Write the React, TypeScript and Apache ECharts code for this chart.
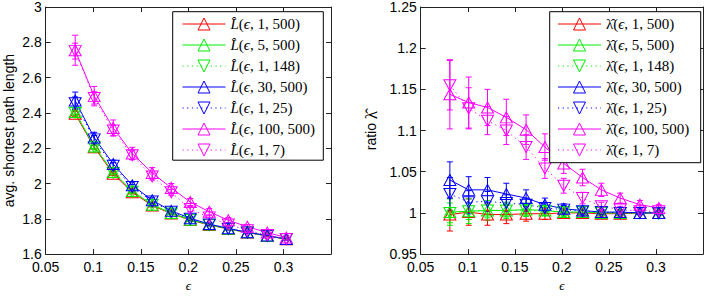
import React, { useEffect, useRef } from "react";
import * as echarts from "echarts";

// epsilon values (x)
const EPS = [0.081, 0.101, 0.121, 0.141, 0.162, 0.182, 0.202, 0.222, 0.242, 0.262, 0.283, 0.303];

// series parameters (k, n)
const PARAMS: [number, number][] = [[1, 500], [5, 500], [1, 148], [30, 500], [1, 25], [100, 500], [1, 7]];
const COLORS = ["#ff0000", "#00ee00", "#00ee00", "#0000ff", "#0000ff", "#ff00ff", "#ff00ff"];
const DOTTED = [false, false, true, false, true, false, true];
const DOWN = [false, false, true, false, true, false, true];

// left panel: average shortest path length
const L_1_500 = [2.395, 2.205, 2.055, 1.95, 1.875, 1.83, 1.793, 1.765, 1.742, 1.722, 1.703, 1.684];
const L_5_500 = [2.405, 2.21, 2.065, 1.958, 1.88, 1.833, 1.795, 1.767, 1.743, 1.723, 1.704, 1.685];
const L_1_148 = [2.4, 2.205, 2.06, 1.953, 1.878, 1.83, 1.793, 1.765, 1.742, 1.722, 1.703, 1.684];
const L_30_500 = [2.47, 2.26, 2.11, 1.99, 1.905, 1.845, 1.803, 1.77, 1.746, 1.724, 1.705, 1.686];
const L_1_25 = [2.455, 2.25, 2.1, 1.98, 1.898, 1.84, 1.8, 1.768, 1.744, 1.723, 1.704, 1.685];
const L_100_500 = [2.755, 2.495, 2.315, 2.17, 2.06, 1.975, 1.895, 1.84, 1.792, 1.755, 1.722, 1.694];
const L_1_7 = [2.75, 2.485, 2.3, 2.16, 2.04, 1.95, 1.855, 1.808, 1.768, 1.735, 1.708, 1.686];

const LE_1_500 = [0.015, 0.012, 0.01, 0.009, 0.008, 0.007, 0.006, 0.005, 0.005, 0.004, 0.004, 0.004];
const LE_5_500 = [0.016, 0.012, 0.01, 0.009, 0.008, 0.007, 0.006, 0.005, 0.005, 0.004, 0.004, 0.004];
const LE_1_148 = [0.014, 0.011, 0.01, 0.008, 0.007, 0.006, 0.006, 0.005, 0.004, 0.004, 0.004, 0.004];
const LE_30_500 = [0.048, 0.03, 0.022, 0.018, 0.014, 0.012, 0.01, 0.009, 0.008, 0.007, 0.006, 0.006];
const LE_1_25 = [0.035, 0.022, 0.018, 0.014, 0.012, 0.01, 0.008, 0.007, 0.006, 0.006, 0.005, 0.005];
const LE_100_500 = [0.085, 0.055, 0.045, 0.035, 0.03, 0.025, 0.02, 0.018, 0.015, 0.012, 0.01, 0.01];
const LE_1_7 = [0.045, 0.035, 0.03, 0.025, 0.02, 0.017, 0.015, 0.012, 0.01, 0.009, 0.008, 0.007];

// right panel: ratio lambda
const R_1_500 = [0.998, 1.001, 0.998, 0.998, 0.999, 0.999, 1.0, 1.0, 0.999, 0.999, 1.0, 1.0];
const R_5_500 = [1.001, 1.002, 1.003, 1.003, 1.004, 1.003, 1.001, 1.001, 1.0, 1.0, 1.0, 1.0];
const R_1_148 = [1.0, 1.002, 1.003, 1.003, 1.003, 1.002, 1.001, 1.001, 1.0, 1.0, 1.0, 0.999];
const R_30_500 = [1.04, 1.028, 1.028, 1.023, 1.018, 1.01, 1.005, 1.003, 1.001, 1.001, 1.0, 1.0];
const R_1_25 = [1.023, 1.013, 1.014, 1.012, 1.01, 1.006, 1.004, 1.002, 1.001, 1.0, 1.0, 1.0];
const R_100_500 = [1.144, 1.134, 1.128, 1.116, 1.101, 1.08, 1.06, 1.043, 1.028, 1.018, 1.01, 1.006];
const R_1_7 = [1.155, 1.127, 1.112, 1.1, 1.08, 1.054, 1.033, 1.018, 1.008, 1.004, 1.002, 1.002];

const RE_1_500 = [0.02, 0.016, 0.013, 0.011, 0.009, 0.007, 0.005, 0.004, 0.003, 0.003, 0.002, 0.002];
const RE_5_500 = [0.016, 0.015, 0.012, 0.01, 0.008, 0.006, 0.005, 0.004, 0.003, 0.003, 0.002, 0.002];
const RE_1_148 = [0.012, 0.01, 0.009, 0.008, 0.007, 0.005, 0.004, 0.003, 0.003, 0.002, 0.002, 0.002];
const RE_30_500 = [0.022, 0.016, 0.015, 0.013, 0.01, 0.008, 0.006, 0.004, 0.003, 0.003, 0.002, 0.002];
const RE_1_25 = [0.02, 0.014, 0.012, 0.01, 0.008, 0.006, 0.005, 0.004, 0.003, 0.002, 0.002, 0.002];
const RE_100_500 = [0.042, 0.031, 0.022, 0.022, 0.018, 0.016, 0.012, 0.01, 0.008, 0.006, 0.005, 0.004];
const RE_1_7 = [0.03, 0.025, 0.017, 0.017, 0.015, 0.012, 0.009, 0.007, 0.005, 0.004, 0.003, 0.003];

const LEFT_Y = [L_1_500, L_5_500, L_1_148, L_30_500, L_1_25, L_100_500, L_1_7];
const LEFT_E = [LE_1_500, LE_5_500, LE_1_148, LE_30_500, LE_1_25, LE_100_500, LE_1_7];
const RIGHT_Y = [R_1_500, R_5_500, R_1_148, R_30_500, R_1_25, R_100_500, R_1_7];
const RIGHT_E = [RE_1_500, RE_5_500, RE_1_148, RE_30_500, RE_1_25, RE_100_500, RE_1_7];

const X_MIN = 0.05, X_MAX = 0.35, X_INT = 0.05;
const LY_MIN = 1.6, LY_MAX = 3, LY_INT = 0.2;
const RY_MIN = 0.95, RY_MAX = 1.25, RY_INT = 0.05;

const SANS = "'Liberation Sans', Arial, Helvetica, sans-serif";
const SERIF = "'Liberation Serif', 'DejaVu Serif', serif";
const AXIS_COLOR = "#222";

const fmt = (v: number) => String(+v.toFixed(3));

function lineSeries(name: string, ys: number[], i: number, ax: number) {
  return {
    type: "line",
    name,
    xAxisIndex: ax,
    yAxisIndex: ax,
    data: EPS.map((x, k) => [x, ys[k]]),
    symbol: "triangle",
    symbolSize: [12, 11],
    symbolRotate: DOWN[i] ? 180 : 0,
    showSymbol: true,
    lineStyle: { color: COLORS[i], width: 1, type: DOTTED[i] ? [1.2, 3.5] : "solid" },
    itemStyle: { color: "rgba(255,255,255,0)", borderColor: COLORS[i], borderWidth: 1 },
    emphasis: { disabled: true },
    silent: true,
    z: 2,
  };
}

function errSeries(name: string, ys: number[], es: number[], color: string, ax: number) {
  return {
    type: "custom",
    name,
    xAxisIndex: ax,
    yAxisIndex: ax,
    data: EPS.map((x, k) => [x, ys[k] - es[k], ys[k] + es[k]]),
    encode: { x: 0, y: [1, 2] },
    silent: true,
    z: 2,
    renderItem: (_p: any, api: any) => {
      const lo = api.coord([api.value(0), api.value(1)]);
      const hi = api.coord([api.value(0), api.value(2)]);
      const w = 3;
      const style = { stroke: color, lineWidth: 1 };
      return {
        type: "group",
        children: [
          { type: "line", shape: { x1: lo[0], y1: lo[1], x2: hi[0], y2: hi[1] }, style },
          { type: "line", shape: { x1: lo[0] - w, y1: lo[1], x2: lo[0] + w, y2: lo[1] }, style },
          { type: "line", shape: { x1: hi[0] - w, y1: hi[1], x2: hi[0] + w, y2: hi[1] }, style },
        ],
      };
    },
  };
}

function xAxes(grid: number) {
  const common = {
    type: "value",
    gridIndex: grid,
    min: X_MIN,
    max: X_MAX,
    interval: X_INT,
    splitLine: { show: false },
    axisLine: { show: true, lineStyle: { color: AXIS_COLOR, width: 1 } },
    axisTick: { show: true, inside: true, length: 5, lineStyle: { color: AXIS_COLOR } },
  };
  return [
    {
      ...common,
      position: "bottom",
      name: "ϵ",
      nameLocation: "middle",
      nameGap: 21,
      nameTextStyle: { fontFamily: SERIF, fontStyle: "italic", fontSize: 13, color: "#000" },
      axisLabel: {
        show: true,
        margin: 6,
        fontFamily: SANS,
        fontSize: 14,
        color: "#000",
        formatter: (v: number) => (v > X_MAX - 0.01 ? "" : fmt(v)),
      },
    },
    { ...common, position: "top", axisLabel: { show: false } },
  ];
}

function yAxes(grid: number, min: number, max: number, interval: number, name: string, nameGap: number) {
  const common = {
    type: "value",
    gridIndex: grid,
    min,
    max,
    interval,
    splitLine: { show: false },
    axisLine: { show: true, lineStyle: { color: AXIS_COLOR, width: 1 } },
    axisTick: { show: true, inside: true, length: 5, lineStyle: { color: AXIS_COLOR } },
  };
  return [
    {
      ...common,
      position: "left",
      name,
      nameLocation: "middle",
      nameGap,
      nameTextStyle: {
        fontFamily: SANS,
        fontSize: 14,
        color: "#000",
        rich: { l: { fontFamily: SERIF, fontSize: 17, color: "#000" } },
      },
      axisLabel: { show: true, margin: 4, fontFamily: SANS, fontSize: 14, color: "#000", formatter: (v: number) => fmt(v) },
    },
    { ...common, position: "right", axisLabel: { show: false } },
  ];
}

export default function App() {
  const ref = useRef<HTMLDivElement>(null);

  useEffect(() => {
    document.body.style.margin = "0";
    if (!ref.current) return;
    const chart = echarts.init(ref.current, undefined, { renderer: "svg" });

    const leftNames = PARAMS.map(([a, b]) => `L̂(ϵ, ${a}, ${b})`);
    const rightNames = PARAMS.map(([a, b]) => `λ̂(ϵ, ${a}, ${b})`);

    const series: any[] = [];
    PARAMS.forEach((_, i) => {
      series.push(lineSeries(leftNames[i], LEFT_Y[i], i, 0));
      series.push(errSeries("errL" + i, LEFT_Y[i], LEFT_E[i], COLORS[i], 0));
    });
    PARAMS.forEach((_, i) => {
      series.push(lineSeries(rightNames[i], RIGHT_Y[i], i, 2));
      series.push(errSeries("errR" + i, RIGHT_Y[i], RIGHT_E[i], COLORS[i], 2));
    });

    const legendCommon = {
      orient: "vertical",
      padding: 0,
      itemWidth: 43,
      itemHeight: 15,
      itemGap: 6,
      selectedMode: false,
      symbolRotate: "inherit",
      lineStyle: { width: 1 },
      itemStyle: { borderWidth: 1 },
      textStyle: {
        fontFamily: SERIF,
        fontSize: 15,
        color: "#000",
        lineHeight: 15,
        rich: { i: { fontFamily: SERIF, fontStyle: "italic", fontSize: 15, color: "#000" } },
      },
      formatter: (n: string) => n.replace("L̂", "{i|L̂}").replace("ϵ", "{i|ϵ}"),
      z: 10,
    };

    chart.setOption({
      animation: false,
      backgroundColor: "#fff",
      grid: [
        { left: 45.7, top: 4, width: 285.3, height: 260.3, containLabel: false },
        { left: 420.7, top: 4, width: 284.8, height: 260.3, containLabel: false },
      ],
      xAxis: [...xAxes(0), ...xAxes(1)],
      yAxis: [
        ...yAxes(0, LY_MIN, LY_MAX, LY_INT, "avg. shortest path length", 30),
        ...yAxes(1, RY_MIN, RY_MAX, RY_INT, "ratio {l|λ̂}", 41),
      ],
      legend: [
        { ...legendCommon, data: leftNames, left: 182, top: 16.5 },
        { ...legendCommon, data: rightNames, left: 557.5, top: 16.5 },
      ],
      graphic: [
        {
          type: "rect",
          z: 5,
          shape: { x: 172.7, y: 11.7, width: 150.6, height: 148.5 },
          style: { fill: "#fff", stroke: "#000", lineWidth: 1 },
        },
        {
          type: "rect",
          z: 5,
          shape: { x: 549.7, y: 11.7, width: 151, height: 151 },
          style: { fill: "#fff", stroke: "#000", lineWidth: 1 },
        },
      ],
      series,
    });

    return () => chart.dispose();
  }, []);

  return <div ref={ref} style={{ width: 706, height: 297 }} />;
}
